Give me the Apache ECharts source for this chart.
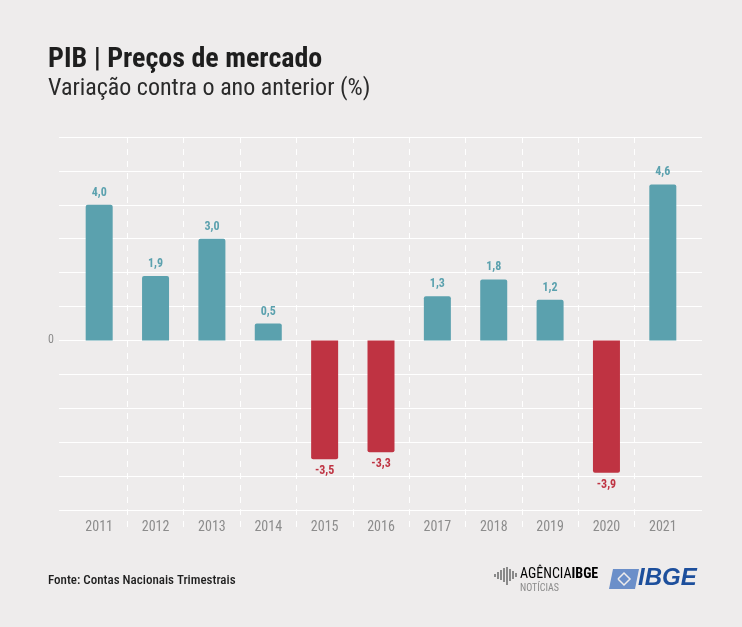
<!DOCTYPE html>
<html>
<head>
<meta charset="utf-8">
<script src="https://cdn.jsdelivr.net/npm/echarts@6/dist/echarts.min.js"></script>
<style>
    html, body { margin: 0; padding: 0; background: #eeecec; }
    #chart { width: 742px; height: 627px; }
</style>
</head>
<body>
<div id="chart"></div>
<script>
// dados do gráfico
const years = ['2011', '2012', '2013', '2014', '2015', '2016', '2017', '2018', '2019', '2020', '2021'];
const pibVariation = [4.0, 1.9, 3.0, 0.5, -3.5, -3.3, 1.3, 1.8, 1.2, -3.9, 4.6];
const yMin = -5;
const yMax = 6;

const FONT = '"Roboto Condensed", "Liberation Sans Narrow", "DejaVu Sans Condensed", Roboto, sans-serif';
const colors = {
    up: '#5ba1ae',
    down: '#bf3342',
    axis: '#8c8c8c',
    grid: '#ffffff',
    bg: '#eeecec',
};

const chart = echarts.init(document.getElementById('chart'));

const option = {
    backgroundColor: colors.bg,
    animation: false,
    title: [
        {
            text: 'PIB | Preços de mercado',
            left: 43, top: 41,
            textStyle: { fontFamily: FONT, fontSize: 28, fontWeight: 'bold', color: '#1e1e1e' }
        },
        {
            text: 'Variação contra o ano anterior (%)',
            left: 43, top: 72,
            textStyle: { fontFamily: FONT, fontSize: 24, fontWeight: 'normal', color: '#2a2a2a' }
        },
        {
            text: 'Fonte: Contas Nacionais Trimestrais',
            left: 43, top: 569,
            textStyle: { fontFamily: FONT, fontSize: 13, fontWeight: 500, color: '#1e1e1e' }
        }
    ],
    grid: [
        // linhas horizontais (mais largas que a área das barras)
        { left: 59, right: 40, top: 137, height: 373 },
        // barras
        { left: 71, right: 51, top: 137, height: 373 },
        // linhas verticais tracejadas
        { left: 71, right: 51, top: 137, height: 391 }
    ],
    xAxis: [
        { gridIndex: 0, type: 'value', show: false, min: 0, max: 1 },
        {
            gridIndex: 1,
            type: 'category',
            data: years,
            axisLine: { show: false },
            axisTick: { show: false },
            splitLine: { show: false },
            axisLabel: { color: colors.axis, fontFamily: FONT, fontSize: 14, margin: 10 }
        },
        {
            gridIndex: 2,
            type: 'category',
            data: years,
            axisLine: { show: false },
            axisTick: { show: false },
            axisLabel: { show: false },
            splitLine: {
                show: true,
                showMinLine: false,
                showMaxLine: false,
                lineStyle: { color: colors.grid, type: [6, 6], width: 1 }
            }
        }
    ],
    yAxis: [
        {
            gridIndex: 0,
            type: 'value',
            min: yMin, max: yMax, interval: 1,
            axisLine: { show: false },
            axisTick: { show: false },
            axisLabel: {
                color: colors.axis, fontFamily: FONT, fontSize: 12, margin: 5,
                formatter: v => (v === 0 ? '0' : '')
            },
            splitLine: { lineStyle: { color: colors.grid, width: 1.2 } }
        },
        {
            gridIndex: 1,
            type: 'value',
            min: yMin, max: yMax, interval: 1,
            show: false
        },
        {
            gridIndex: 2,
            type: 'value',
            min: 0, max: 1,
            show: false
        }
    ],
    series: [
        {
            type: 'bar',
            xAxisIndex: 1,
            yAxisIndex: 1,
            barWidth: 27,
            data: pibVariation.map(v => ({
                value: v,
                itemStyle: {
                    color: v >= 0 ? colors.up : colors.down,
                    borderRadius: v >= 0 ? [2, 2, 0, 0] : [0, 0, 2, 2]
                },
                label: {
                    position: v >= 0 ? 'top' : 'bottom',
                    color: v >= 0 ? colors.up : colors.down
                }
            })),
            label: {
                show: true,
                distance: 6,
                fontFamily: FONT,
                fontSize: 12,
                fontWeight: 'bold',
                formatter: p => p.value.toFixed(1).replace('.', ',')
            }
        }
    ],
    graphic: [
        // logo Agência IBGE Notícias
        {
            type: 'group',
            left: 494, top: 567,
            children: [
                { type: 'rect', shape: { x: 0, y: 7, width: 2, height: 3 }, style: { fill: '#8a8a8a' } },
                { type: 'rect', shape: { x: 3, y: 5, width: 2, height: 7 }, style: { fill: '#8a8a8a' } },
                { type: 'rect', shape: { x: 6, y: 3, width: 2, height: 10 }, style: { fill: '#8a8a8a' } },
                { type: 'rect', shape: { x: 9, y: 1, width: 2, height: 14 }, style: { fill: '#8a8a8a' } },
                { type: 'rect', shape: { x: 12, y: 0, width: 2, height: 18 }, style: { fill: '#8a8a8a' } },
                { type: 'rect', shape: { x: 15, y: 2, width: 2, height: 12 }, style: { fill: '#8a8a8a' } },
                { type: 'rect', shape: { x: 18, y: 4, width: 2, height: 8 }, style: { fill: '#8a8a8a' } },
                { type: 'rect', shape: { x: 21, y: 6, width: 2, height: 4 }, style: { fill: '#8a8a8a' } }
            ]
        },
        {
            type: 'text',
            left: 520, top: 567,
            style: {
                text: '{a|AGÊNCIA}{b|IBGE}',
                rich: {
                    a: { fontFamily: FONT, fontSize: 14, color: '#8a8a8a' },
                    b: { fontFamily: FONT, fontSize: 14, fontWeight: 'bold', color: '#8a8a8a' }
                }
            }
        },
        {
            type: 'text',
            left: 520, top: 583,
            style: { text: 'NOTÍCIAS', fontFamily: FONT, fontSize: 10, fill: '#8a8a8a' }
        },
        // logo IBGE
        {
            type: 'polygon',
            shape: { points: [[613, 569], [639, 569], [635, 589], [609, 589]] },
            style: { fill: '#6b8fc9' }
        },
        {
            type: 'polyline',
            shape: { points: [[618, 579], [624, 573], [630, 579], [624, 585], [618, 579]] },
            style: { stroke: '#eeecec', lineWidth: 1.5, fill: null }
        },
        {
            type: 'text',
            left: 638, top: 566,
            style: {
                text: 'IBGE',
                fontFamily: '"Liberation Sans", Arial, sans-serif', fontSize: 24, fontWeight: 'bold', fontStyle: 'italic',
                fill: '#1d4f9c'
            }
        }
    ]
};

chart.setOption(option);
window.addEventListener('resize', () => chart.resize());
</script>
</body>
</html>
